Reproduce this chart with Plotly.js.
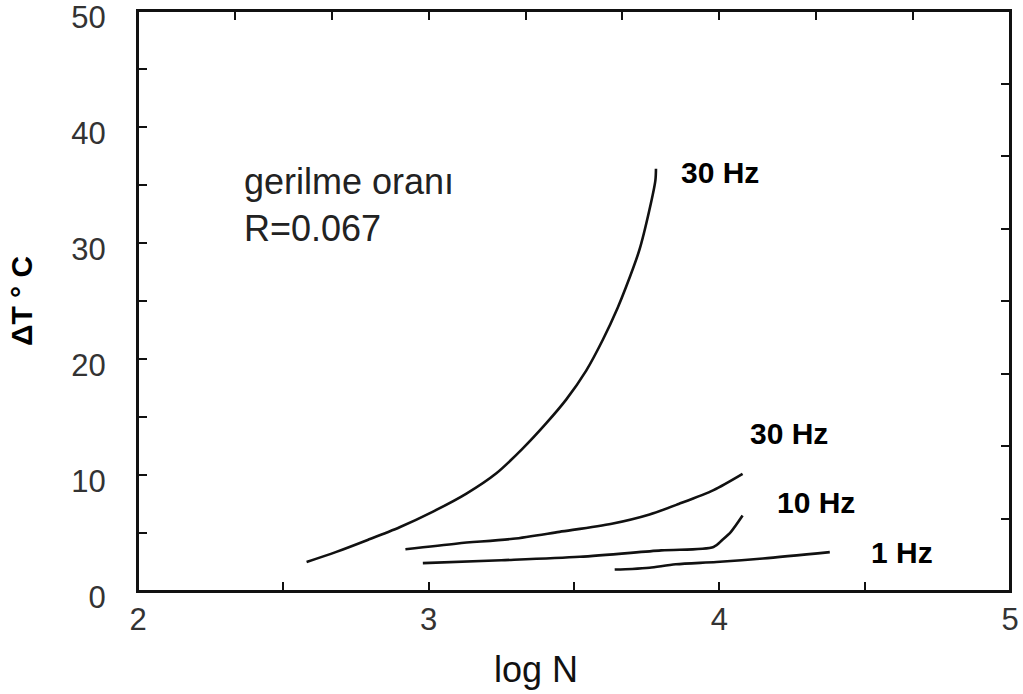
<!DOCTYPE html>
<html>
<head>
<meta charset="utf-8">
<script src="https://cdn.plot.ly/plotly-3.0.1.min.js"></script>
<style>html,body{margin:0;padding:0;background:#fff;}#chart{width:1023px;height:694px;}</style>
</head>
<body>
<div id="chart"></div>
<script>
// Curve data (log N vs ΔT °C)
const curve30HzUpperX = [2.58, 2.68, 2.79, 2.90, 3.015, 3.13, 3.233, 3.324, 3.404, 3.473, 3.542, 3.60, 3.65, 3.679, 3.725, 3.759, 3.780, 3.782];
const curve30HzUpperY = [2.5, 3.35, 4.4, 5.5, 6.85, 8.4, 10.15, 12.3, 14.45, 16.5, 19.0, 21.7, 24.4, 26.2, 29.4, 32.8, 35.4, 36.4];

const curve30HzLowerX = [2.92, 3.10, 3.29, 3.45, 3.63, 3.76, 3.86, 3.98, 4.08];
const curve30HzLowerY = [3.6, 4.1, 4.5, 5.1, 5.8, 6.6, 7.5, 8.7, 10.1];

const curve10HzX = [2.98, 3.25, 3.52, 3.80, 3.98, 4.01, 4.04, 4.08];
const curve10HzY = [2.4, 2.65, 2.95, 3.5, 3.8, 4.4, 5.1, 6.5];

const curve1HzX = [3.64, 3.70, 3.76, 3.85, 3.99, 4.15, 4.38];
const curve1HzY = [1.85, 1.9, 2.0, 2.3, 2.5, 2.8, 3.35];

const xTickVals = [2, 2.5, 3, 3.5, 4, 4.5, 5];
const xTickText = ['2', '', '3', '', '4', '', '5'];
const yTickVals = [0, 5, 10, 15, 20, 25, 30, 35, 40, 45, 50];
const yTickText = ['0', '', '10', '', '20', '', '30', '', '40', '', '50'];

const curveLabels = ['30 Hz', '30 Hz', '10 Hz', '1 Hz'];
const labelX = [3.86, 4.10, 4.19, 4.515];
const labelY = [36.1, 13.6, 7.6, 3.28];

const noteText = 'gerilme oranı<br>R=0.067';
const noteX = 2.357;
const noteY = 33.3;

const xTitle = 'log N';
const yTitle = '<b>ΔT ° C</b>';

const lineStyle = {color: '#111', width: 2.6, shape: 'spline', smoothing: 0.8};
const traces = [
  {x: curve30HzUpperX, y: curve30HzUpperY, mode: 'lines', line: lineStyle, hoverinfo: 'skip'},
  {x: curve30HzLowerX, y: curve30HzLowerY, mode: 'lines', line: lineStyle, hoverinfo: 'skip'},
  {x: curve10HzX, y: curve10HzY, mode: 'lines', line: lineStyle, hoverinfo: 'skip'},
  {x: curve1HzX, y: curve1HzY, mode: 'lines', line: lineStyle, hoverinfo: 'skip'},
  {x: [], y: [], xaxis: 'x2', yaxis: 'y2', mode: 'lines', hoverinfo: 'skip'}
];

const fontFam = '"Liberation Sans", Arial, sans-serif';
const annotations = [];
curveLabels.forEach((txt, i) => {
  annotations.push({x: labelX[i], y: labelY[i], xref: 'x', yref: 'y', text: '<b>' + txt + '</b>',
    showarrow: false, xanchor: 'left', yanchor: 'middle', font: {family: fontFam, size: 30, color: '#000'}});
});
annotations.push({x: noteX, y: noteY, xref: 'x', yref: 'y', text: noteText, align: 'left',
  showarrow: false, xanchor: 'left', yanchor: 'middle', font: {family: fontFam, size: 36, color: '#222'}});
// x-axis title (placed left of centre as in the reference)
annotations.push({x: 0.456, y: -0.136, xref: 'paper', yref: 'paper', text: xTitle, showarrow: false,
  xanchor: 'center', yanchor: 'middle', font: {family: fontFam, size: 36, color: '#111'}});

const axisCommon = {
  showline: true, linecolor: '#111', linewidth: 2, mirror: false,
  ticks: 'inside', ticklen: 9, tickwidth: 2, tickcolor: '#111',
  showgrid: false, zeroline: false, fixedrange: true
};

const layout = {
  width: 1023, height: 694,
  margin: {l: 138, r: 13, t: 11, b: 103},
  paper_bgcolor: '#fff', plot_bgcolor: '#fff',
  showlegend: false,
  font: {family: fontFam, color: '#222'},
  xaxis: Object.assign({}, axisCommon, {
    range: [2, 5], tickmode: 'array', tickvals: xTickVals, ticktext: xTickText,
    tickfont: {family: fontFam, size: 31, color: '#333'}, ticklabelstandoff: 0,
    ticklabeloverflow: 'allow'
  }),
  yaxis: Object.assign({}, axisCommon, {
    range: [0, 50], tickmode: 'array', tickvals: yTickVals, ticktext: yTickText,
    tickfont: {family: fontFam, size: 31, color: '#333'}, ticklabelstandoff: 24,
    ticklabeloverflow: 'allow', ticklabelshift: 6,
    title: {text: yTitle, font: {family: fontFam, size: 30, color: '#000'}, standoff: 30}
  }),
  xaxis2: Object.assign({}, axisCommon, {
    overlaying: 'x', side: 'top', anchor: 'y2', range: [2, 5], tick0: 2, dtick: 1/3, showticklabels: false
  }),
  yaxis2: Object.assign({}, axisCommon, {
    overlaying: 'y', side: 'right', anchor: 'x2', range: [0, 50], tick0: 0, dtick: 6.25, showticklabels: false
  }),
  shapes: [{type: 'rect', xref: 'paper', yref: 'paper', x0: 0, x1: 1, y0: 0, y1: 1,
    line: {color: '#111', width: 2}, fillcolor: 'rgba(0,0,0,0)', layer: 'above'}],
  annotations: annotations
};

Plotly.newPlot('chart', traces, layout, {displayModeBar: false, staticPlot: true});
</script>
</body>
</html>
